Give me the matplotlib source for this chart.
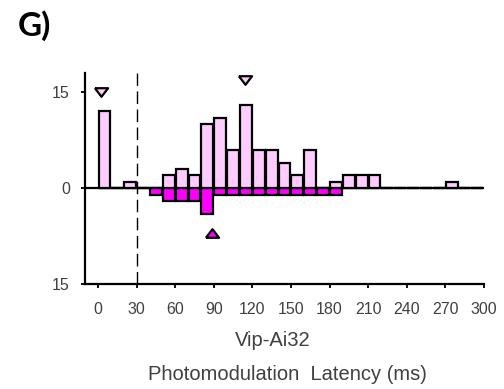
import numpy as np
import matplotlib
matplotlib.use("Agg")
import matplotlib.pyplot as plt

# latency bins (left edges, ms) and cell counts
bins = np.arange(0, 300, 10)
excited = [12, 0, 1, 0, 0, 2, 3, 2, 10, 11, 6, 13, 6, 6, 4, 2, 6, 0, 1, 2,
           2, 2, 0, 0, 0, 0, 0, 1, 0, 0]
inhibited = [0, 0, 0, 0, 1, 2, 2, 2, 4, 1, 1, 1, 1, 1, 1, 1, 1, 1, 1, 0,
             0, 0, 0, 0, 0, 0, 0, 0, 0, 0]

# median markers (ms, count level)
exc_marks_x = [2, 114]
exc_marks_y = [15, 17]
inh_mark_x = [88.5]
inh_mark_y = [-7]

xticks = list(range(0, 301, 30))
yticks = [15, 0, -15]
yticklabels = ["15", "0", "15"]

PINK = "#FFCCFF"
MAGENTA = "#FF00FF"
GREY = "#404040"

plt.rcParams["font.family"] = ["Liberation Sans", "DejaVu Sans"]

fig = plt.figure(figsize=(5.04, 3.89), dpi=100)
ax = fig.add_axes([0.169, 0.270, 0.791, 0.542])

ax.axhline(0, color="black", lw=1.6, zorder=1)
centers = bins + 5
ax.bar(centers, -np.array(inhibited), width=9.2, color=MAGENTA,
       edgecolor="black", linewidth=1.6, zorder=2)
ax.bar(centers, excited, width=9.2, color=PINK,
       edgecolor="black", linewidth=1.6, zorder=3)

ax.axvline(30, color="black", lw=1.0, linestyle=(0, (9, 4)), zorder=4)

down_tri = [(-1, 0.65), (1, 0.65), (0, -0.65), (-1, 0.65)]
up_tri = [(-1, -0.65), (1, -0.65), (0, 0.65), (-1, -0.65)]
ax.plot(exc_marks_x, exc_marks_y, linestyle="none", marker=down_tri,
        markersize=9.5, markerfacecolor=PINK, markeredgecolor="black",
        markeredgewidth=1.6, clip_on=False, zorder=5)
ax.plot(inh_mark_x, inh_mark_y, linestyle="none", marker=up_tri,
        markersize=9.5, markerfacecolor=MAGENTA, markeredgecolor="black",
        markeredgewidth=1.6, clip_on=False, zorder=5)

ax.set_xlim(-10, 300)
ax.set_ylim(-15, 18)
ax.set_xticks(xticks)
ax.set_yticks(yticks)
ax.set_yticklabels(yticklabels)

for side in ["top", "right"]:
    ax.spines[side].set_visible(False)
for side in ["left", "bottom"]:
    ax.spines[side].set_linewidth(1.6)
ax.tick_params(axis="both", length=3, width=1.3, colors="black",
               labelcolor=GREY, labelsize=11.5)
ax.tick_params(axis="x", pad=10)
ax.tick_params(axis="y", pad=8)

fig.text(0.541, 1 - 341 / 389, "Vip-Ai32", ha="center", va="center",
         fontsize=14.5, color=GREY)
fig.text(0.571, 1 - 374 / 389, "Photomodulation  Latency (ms)", ha="center",
         va="center", fontsize=14.5, color=GREY)
fig.text(18 / 504, 1 - 26 / 389, "G)", ha="left", va="center",
         fontsize=24, fontweight="bold", family=["Lato", "DejaVu Sans"])

fig.savefig("out.png", dpi=100)
